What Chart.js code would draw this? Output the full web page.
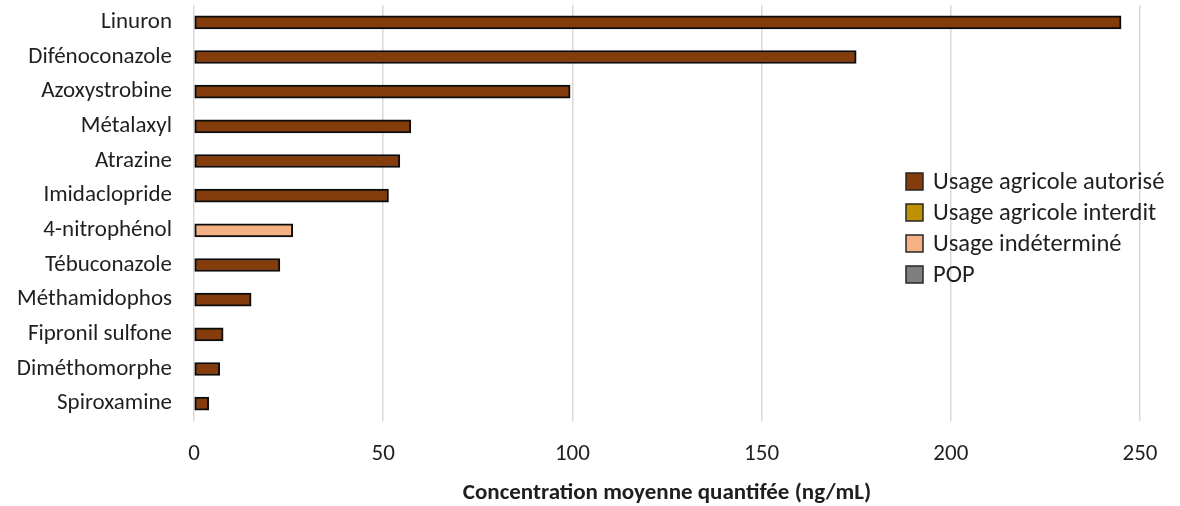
<!DOCTYPE html>
<html lang="fr">
<head>
<meta charset="utf-8">
<title>Concentration moyenne quantifiée</title>
<script src="https://cdn.jsdelivr.net/npm/chart.js@4.4.1/dist/chart.umd.min.js"></script>
<style>
  html, body { margin: 0; padding: 0; background: #fff; }
  #wrap { width: 1180px; height: 506px; }
</style>
</head>
<body>
<div id="wrap"><canvas id="graphique" width="1180" height="506"></canvas></div>
<script>
// Molécules, de la plus concentrée à la moins concentrée
const molecules = ["Linuron", "Difénoconazole", "Azoxystrobine", "Métalaxyl", "Atrazine", "Imidaclopride",
    "4-nitrophénol", "Tébuconazole", "Méthamidophos", "Fipronil sulfone", "Diméthomorphe", "Spiroxamine"];
// Concentration moyenne (ng/mL)
const concentrations = [245, 175, 99.4, 57.3, 54.4, 51.4, 26.1, 22.7, 15.1, 7.7, 6.8, 3.9];
// Catégorie d'usage de chaque molécule
const usages = ["autorise", "autorise", "autorise", "autorise", "autorise", "autorise",
    "indetermine", "autorise", "autorise", "autorise", "autorise", "autorise"];

const codesUsage = ["autorise", "interdit", "indetermine", "pop"];
const libellesUsage = ["Usage agricole autorisé", "Usage agricole interdit", "Usage indéterminé", "POP"];
const couleursUsage = ["#843C0C", "#BF9000", "#F4B183", "#7F7F7F"];
const ticksX = [0, 50, 100, 150, 200, 250];

const police = "Carlito, Lato, sans-serif";
Chart.defaults.font.family = police;
Chart.defaults.font.size = 23;
Chart.defaults.color = "#1f1f1f";

// Légende dessinée dans la zone du graphique (comme sous Excel)
const encartLegende = {
    id: "encartLegende",
    afterDraw(chart) {
        const ctx = chart.ctx;
        ctx.save();
        ctx.font = "24.5px " + police;
        ctx.textBaseline = "middle";
        chart.data.datasets.forEach((ds, i) => {
            let y = 182 + i * 31;
            ctx.fillStyle = ds.backgroundColor;
            ctx.fillRect(906, y - 9, 17, 17);
            ctx.strokeStyle = "#262626";
            ctx.lineWidth = 1.5;
            ctx.strokeRect(906, y - 9, 17, 17);
            ctx.fillStyle = "#1f1f1f";
            ctx.fillText(ds.label, 933, y + 1);
        });
        ctx.restore();
    }
};

let datasets = codesUsage.map((code, k) => ({
    label: libellesUsage[k],
    data: concentrations.map((v, i) => usages[i] === code ? v : null),
    backgroundColor: couleursUsage[k],
    borderColor: "#0d0d0d",
    borderWidth: 2,
    borderSkipped: false,
    barThickness: 13
}));

let ctx = document.getElementById("graphique").getContext("2d");
let chart = new Chart(ctx, {
    type: "bar",
    data: { labels: molecules, datasets: datasets },
    plugins: [encartLegende],
    options: {
        indexAxis: "y",
        responsive: false,
        animation: false,
        layout: { padding: { top: 5, right: 40, left: 0, bottom: 0 } },
        plugins: {
            legend: { display: false },
            tooltip: { enabled: false }
        },
        scales: {
            x: {
                stacked: true,
                min: 0,
                max: 250,
                afterBuildTicks: s => { s.ticks = ticksX.map(v => ({ value: v })); },
                afterFit: s => { s.height = 85; },
                grid: { color: "#D9D9D9", lineWidth: 1.5, drawTicks: false },
                border: { display: false },
                ticks: { padding: 19 },
                title: {
                    display: true,
                    text: "Concentration moyenne quantifée (ng/mL)",
                    font: { weight: "bold", size: 23 },
                    padding: { top: 0, bottom: -1 }
                }
            },
            y: {
                stacked: true,
                afterFit: s => { s.width = 194; s.paddingTop = 0; s.paddingBottom = 0; },
                grid: { display: false, drawTicks: false },
                border: { display: false },
                ticks: { padding: 22 }
            }
        }
    }
});
</script>
</body>
</html>
